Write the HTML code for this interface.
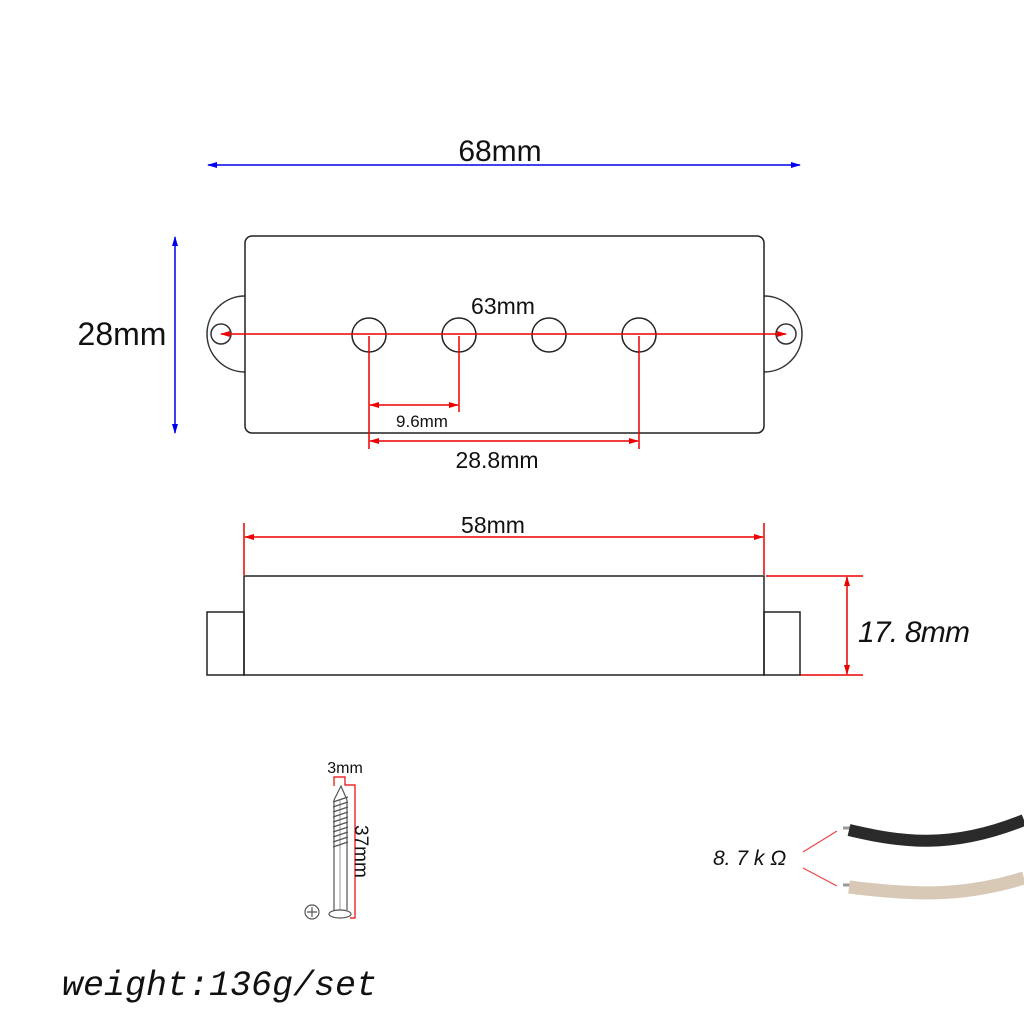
<!DOCTYPE html>
<html><head><meta charset="utf-8"><style>
html,body{margin:0;padding:0;background:#fff;}
svg{display:block;}
text{font-family:"Liberation Sans","DejaVu Sans",sans-serif;fill:#111;}
</style></head><body>
<svg width="1024" height="1024" viewBox="0 0 1024 1024" xmlns="http://www.w3.org/2000/svg">
<defs>
<marker id="ab" markerWidth="10" markerHeight="8" refX="9" refY="4" orient="auto-start-reverse" markerUnits="userSpaceOnUse"><path d="M0,1 L10,4 L0,7 Z" fill="#0000ee"/></marker>
<marker id="ar" markerWidth="10" markerHeight="8" refX="9" refY="4" orient="auto-start-reverse" markerUnits="userSpaceOnUse"><path d="M0,1 L10,4 L0,7 Z" fill="#ee0000"/></marker>
</defs>
<rect width="1024" height="1024" fill="#fff"/>
<line x1="208" y1="165" x2="800" y2="165" stroke="#0000ee" stroke-width="1.5" marker-start="url(#ab)" marker-end="url(#ab)"/>
<text x="500" y="161" font-size="30" text-anchor="middle">68mm</text>
<line x1="175" y1="237" x2="175" y2="433" stroke="#0000ee" stroke-width="1.5" marker-start="url(#ab)" marker-end="url(#ab)"/>
<text x="122" y="345" font-size="32" text-anchor="middle">28mm</text>
<path d="M245,296 A38,38 0 0 0 245,372" fill="none" stroke="#333" stroke-width="1.5"/>
<path d="M764,296 A38,38 0 0 1 764,372" fill="none" stroke="#333" stroke-width="1.5"/>
<circle cx="221" cy="334" r="10" fill="none" stroke="#333" stroke-width="1.5"/>
<circle cx="786" cy="334" r="10" fill="none" stroke="#333" stroke-width="1.5"/>
<rect x="245" y="236" width="519" height="197" rx="7" fill="none" stroke="#222" stroke-width="1.5"/>
<g fill="none" stroke="#222" stroke-width="1.5">
<circle cx="369" cy="335" r="17"/><circle cx="459" cy="335" r="17"/><circle cx="549" cy="335" r="17"/><circle cx="639" cy="335" r="17"/>
</g>
<line x1="221" y1="334" x2="786" y2="334" stroke="#ee0000" stroke-width="1.5" marker-start="url(#ar)" marker-end="url(#ar)"/>
<text x="503" y="314" font-size="23" text-anchor="middle">63mm</text>
<g stroke="#ee0000" stroke-width="1.5">
<line x1="369" y1="336" x2="369" y2="449"/>
<line x1="459" y1="336" x2="459" y2="412"/>
<line x1="639" y1="336" x2="639" y2="449"/>
</g>
<line x1="370" y1="405" x2="458" y2="405" stroke="#ee0000" stroke-width="1.5" marker-start="url(#ar)" marker-end="url(#ar)"/>
<text x="422" y="427" font-size="17" text-anchor="middle">9.6mm</text>
<line x1="370" y1="441" x2="638" y2="441" stroke="#ee0000" stroke-width="1.5" marker-start="url(#ar)" marker-end="url(#ar)"/>
<text x="497" y="468" font-size="23" text-anchor="middle">28.8mm</text>
<g stroke="#ee0000" stroke-width="1.5">
<line x1="244" y1="523" x2="244" y2="575"/>
<line x1="764" y1="523" x2="764" y2="575"/>
<line x1="766" y1="576" x2="863" y2="576"/>
<line x1="800" y1="675" x2="863" y2="675"/>
</g>
<line x1="245" y1="537" x2="763" y2="537" stroke="#ee0000" stroke-width="1.5" marker-start="url(#ar)" marker-end="url(#ar)"/>
<text x="493" y="533" font-size="23" text-anchor="middle">58mm</text>
<line x1="847" y1="577" x2="847" y2="674" stroke="#ee0000" stroke-width="1.5" marker-start="url(#ar)" marker-end="url(#ar)"/>
<g fill="none" stroke="#222" stroke-width="1.5">
<rect x="244" y="576" width="520" height="99"/>
<rect x="207" y="612" width="37" height="63"/>
<rect x="764" y="612" width="36" height="63"/>
</g>
<text x="858" y="642" font-size="30" font-style="italic" textLength="112">17. 8mm</text>
<g fill="none" stroke="#555" stroke-width="1.2">
<path d="M334,800 L341,786 L347,800"/>
<line x1="334" y1="800" x2="334" y2="910"/>
<line x1="347" y1="800" x2="347" y2="910"/>
<line x1="340" y1="800" x2="340" y2="910" stroke="#aaa"/>
<path d="M333,802 L348,797 M333,807 L348,802 M333,812 L348,807 M333,817 L348,812 M333,822 L348,817 M333,827 L348,822 M333,832 L348,827 M333,837 L348,832 M333,842 L348,837 M333,847 L348,842"/>
<ellipse cx="340" cy="914" rx="11" ry="4"/>
<circle cx="312" cy="912" r="7"/>
<path d="M307,912 L317,912 M312,907 L312,917"/>
</g>
<path d="M334,786 L334,777 L345,777 L345,785 L355,785 L355,918 L350,918" fill="none" stroke="#ee0000" stroke-width="1.2"/>
<text x="345" y="773" font-size="16" text-anchor="middle">3mm</text>
<text x="0" y="0" font-size="19" transform="translate(355,825) rotate(90)">37mm</text>
<line x1="803" y1="852" x2="837" y2="831" stroke="#ee4444" stroke-width="1.2"/>
<line x1="803" y1="868" x2="837" y2="886" stroke="#ee4444" stroke-width="1.2"/>
<path d="M843,828 L850,828" stroke="#999" stroke-width="3"/>
<path d="M849,830 C900,842 950,850 1024,820" fill="none" stroke="#2a2a2a" stroke-width="12"/>
<path d="M843,885 L850,885" stroke="#999" stroke-width="3"/>
<path d="M849,887 C920,896 965,896 1024,878" fill="none" stroke="#d8c8b6" stroke-width="13"/>
<text x="713" y="865" font-size="21" font-style="italic">8. 7 k Ω</text>
<text x="62" y="995" font-size="35" font-style="italic" style="font-family:'Liberation Mono','DejaVu Sans Mono',monospace">weight:136g/set</text>
</svg>
</body></html>
